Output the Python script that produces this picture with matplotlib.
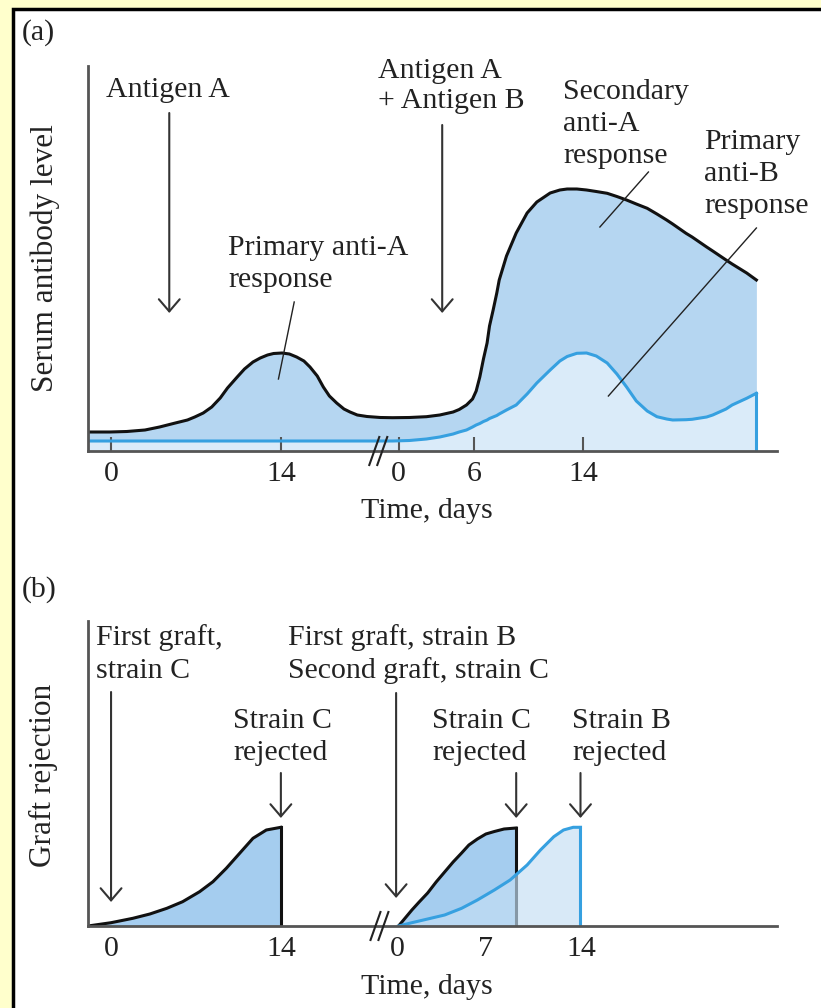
import matplotlib
matplotlib.use("Agg")
import matplotlib.pyplot as plt
from matplotlib.patches import Rectangle

plt.rcParams['font.family'] = ['Liberation Serif', 'DejaVu Serif']
plt.rcParams['lines.solid_joinstyle'] = 'round'

# --- данные: позиция по разорванной оси времени (в днях первой фазы) ---
# (a) уровень антител, условные единицы
t_a = [-1.9, -0.1, 1.3, 2.8, 4.0, 5.3, 6.3, 6.9, 7.6, 8.3,
       9.0, 9.6, 10.4, 11.0, 11.7, 12.3, 12.9, 13.4, 14.1, 14.7,
       15.3, 15.9, 16.4, 17.0, 17.5, 18.0, 18.6, 19.2, 19.7, 20.3,
       21.1, 22.2, 23.2, 24.6, 26.0, 27.1, 28.2, 28.7, 29.3, 29.8,
       30.1, 30.4, 30.7, 31.0, 31.2, 31.5, 31.8, 32.0, 32.6, 33.4,
       34.3, 35.1, 36.2, 37.0, 37.6, 38.4, 39.2, 40.0, 40.9, 41.7,
       42.5, 43.3, 44.2, 45.0, 45.8, 46.3, 47.4, 47.9, 49.1, 49.6,
       50.7, 51.2, 52.4, 53.2]
anti_a = [19, 19, 19.5, 21, 24, 28, 31, 34, 38, 44,
          53, 63, 74, 82, 89, 93, 96, 97.5, 98, 97,
          94, 90, 84, 75, 64, 55, 48, 42, 39, 36,
          34.5, 33.5, 33.3, 33.5, 34.3, 36, 39, 41.5, 46, 52,
          60, 74, 92, 108, 125, 141, 158, 171, 195, 218,
          238, 249, 258, 261, 262, 262, 261, 259.5, 257.7, 254.5,
          251, 247, 242.7, 237, 231, 227, 217.7, 214, 204, 200,
          191, 187, 178, 171]
anti_b = [10, 10, 10, 10, 10, 10, 10, 10, 10, 10,
          10, 10, 10, 10, 10, 10, 10, 10, 10, 10,
          10, 10, 10, 10, 10, 10, 10, 10, 10, 10,
          10, 10, 10, 10.5, 12, 14, 17, 19, 21, 24,
          26, 27.5, 29.5, 31, 32.5, 34, 35.5, 37, 41, 46,
          57, 68, 81, 90, 94.5, 97.7, 98, 95, 88, 77,
          64, 50, 40, 34.3, 32, 31, 31.3, 31.7, 34, 36,
          42, 46, 52.7, 57.7]
ticks_a = [0, 14, 23.7, 29.9, 38.9]
ticklabels_a = ["0", "14", "0", "6", "14"]

# (b) отторжение трансплантата
t_c1 = [-1.9, 0, 1.8, 3.2, 4.6, 5.9, 7.3, 8.4, 9.5, 10.6, 11.7, 12.8, 14.0]
rej_c1 = [0, 3.3, 7.7, 12, 17.7, 24.3, 34.3, 44.3, 57.7, 72.7, 87.7, 96, 98.7]
t_c2 = [23.7, 24.8, 25.4, 26.1, 26.8, 27.5, 28.2, 28.9, 29.5, 30.2, 30.9, 31.6, 32.4, 33.4]
rej_c2 = [0, 16, 24, 33, 44, 54, 64, 73, 81, 87, 92, 94.5, 97, 98]
t_b = [23.7, 24.8, 26.1, 27.5, 28.9, 30.2, 31.6, 32.9, 34.3, 35.4, 36.5, 37.3, 38.1, 38.7]
rej_b = [0, 3.3, 7, 11, 17.7, 26, 36, 46, 61, 76, 89.3, 96, 98.7, 98.7]
ticks_b = [0, 14, 23.6, 30.9, 38.8]
ticklabels_b = ["0", "14", "0", "7", "14"]

W, H = 821, 1008
MED_A = "#b5d6f1"
LIGHT_A = "#daebf9"
MED_B = "#a5cdef"
BLUE = "#36a0e0"
AXC = "#555555"
TXT = "#222222"
FS = 21.5

fig = plt.figure(figsize=(W / 100, H / 100), dpi=100, facecolor="#ffffcc")
fig.patches.append(Rectangle((13 / W, -0.05), 1.1, 1.05 - 9 / H, transform=fig.transFigure,
                             facecolor="white", edgecolor="black", lw=2.5, zorder=-10))


def ftext(x, y, s, **kw):
    kw.setdefault('va', 'center')
    kw.setdefault('ha', 'left')
    kw.setdefault('linespacing', 1.31)
    kw.setdefault('fontsize', FS)
    fig.text(x / W, 1 - y / H, s, color=TXT, **kw)


def setup(ax, ylim, ticks, labels):
    ax.set_xlim(-1.9, 54.9)
    ax.set_ylim(0, ylim)
    ax.set_facecolor("none")
    for s in ['top', 'right']:
        ax.spines[s].set_visible(False)
    for s in ['left', 'bottom']:
        ax.spines[s].set_color(AXC)
        ax.spines[s].set_linewidth(2)
    ax.set_yticks([])
    ax.set_xticks(ticks)
    ax.set_xticklabels(labels, fontsize=FS, color=TXT)


def arrow(ax, x, y0, y1):
    ax.annotate("", xy=(x, y1), xytext=(x, y0),
                arrowprops=dict(arrowstyle="->,head_length=0.35,head_width=0.3",
                                mutation_scale=25, color="#333333", lw=1.5,
                                shrinkA=0, shrinkB=0), annotation_clip=False)


def brk(ax, x, scale):
    for dx in (0, 8):
        ax.plot([x + (dx - 5) / scale, x + (dx + 5) / scale], [-14, 14], color="#222222",
                lw=1.5, clip_on=False, zorder=5)


# ---------------- (a) ----------------
ax1 = fig.add_axes([88 / W, 1 - 451 / H, (777 - 88) / W, 385 / H])
setup(ax1, 385, ticks_a, ticklabels_a)
ax1.tick_params(axis='x', direction='in', length=10, width=1.5, color=AXC, pad=7)
ax1.fill_between(t_a, anti_b, anti_a, color=MED_A, lw=0)
ax1.fill_between(t_a, 0, anti_b, color=LIGHT_A, lw=0)
ax1.plot(t_a, anti_a, color="#111111", lw=2.2)
ax1.plot(t_a, anti_b, color=BLUE, lw=2.2)
ax1.plot([t_a[-1], t_a[-1]], [0, anti_b[-1]], color=BLUE, lw=2.2)
brk(ax1, 21.7, 12.14)

arrow(ax1, 4.8, 338, 138)
arrow(ax1, 27.3, 326, 138)
ax1.plot([15.1, 13.8], [149, 72], color="#222222", lw=1)
ax1.plot([44.3, 40.3], [279, 224], color="#222222", lw=1)
ax1.plot([53.2, 41.0], [223, 55], color="#222222", lw=1)

ftext(22, 33, "(a)")
ftext(106, 90, "Antigen A")
ftext(378, 86, "Antigen A\n+ Antigen B", linespacing=1.22)
ftext(563, 124, "Secondary\nanti-A\nresponse")
ftext(704, 174, "Primary\nanti-B\nresponse")
ftext(228, 264, "Primary anti-A\nresponse")
ftext(45, 258, "Serum antibody level", rotation=90, ha='center', fontsize=22.5)
ftext(427, 511, "Time, days", ha='center')

# ---------------- (b) ----------------
ax2 = fig.add_axes([88 / W, 1 - 926 / H, (777 - 88) / W, 305 / H])
setup(ax2, 305, ticks_b, ticklabels_b)
ax2.tick_params(axis='x', which='major', length=0, pad=7)
ax2.set_xticks([0], minor=True)
ax2.tick_params(axis='x', which='minor', direction='in', length=11, width=1.5, color=AXC)
ax2.fill_between(t_c1, 0, rej_c1, color=MED_B, lw=0)
ax2.plot(t_c1, rej_c1, color="#111111", lw=2.2)
ax2.plot([t_c1[-1], t_c1[-1]], [0, rej_c1[-1]], color="#111111", lw=2.2)
ax2.fill_between(t_c2, 0, rej_c2, color=MED_B, lw=0)
ax2.plot(t_c2, rej_c2, color="#111111", lw=2.2)
ax2.plot([t_c2[-1], t_c2[-1]], [0, rej_c2[-1]], color="#111111", lw=2.2)
ax2.fill_between(t_b, 0, rej_b, color=(196 / 255, 223 / 255, 244 / 255), alpha=0.66, lw=0, zorder=2.2)
ax2.plot(t_b, rej_b, color=BLUE, lw=2.2, zorder=2.3)
ax2.plot([t_b[-1], t_b[-1]], [0, rej_b[-1]], color=BLUE, lw=2.2, zorder=2.3)
brk(ax2, 21.8, 12.21)

arrow(ax2, 0, 234, 24)
arrow(ax2, 23.5, 233, 28)
arrow(ax2, 14.0, 153, 108)
arrow(ax2, 33.4, 153, 108)
arrow(ax2, 38.7, 153, 108)

ftext(22, 590, "(b)")
ftext(96, 654, "First graft,\nstrain C")
ftext(288, 654, "First graft, strain B\nSecond graft, strain C")
ftext(233, 737, "Strain C\nrejected")
ftext(432, 737, "Strain C\nrejected")
ftext(572, 737, "Strain B\nrejected")
ftext(43, 775, "Graft rejection", rotation=90, ha='center', fontsize=22.5)
ftext(427, 987, "Time, days", ha='center')

fig.savefig("out.png", dpi=100, facecolor=fig.get_facecolor())
